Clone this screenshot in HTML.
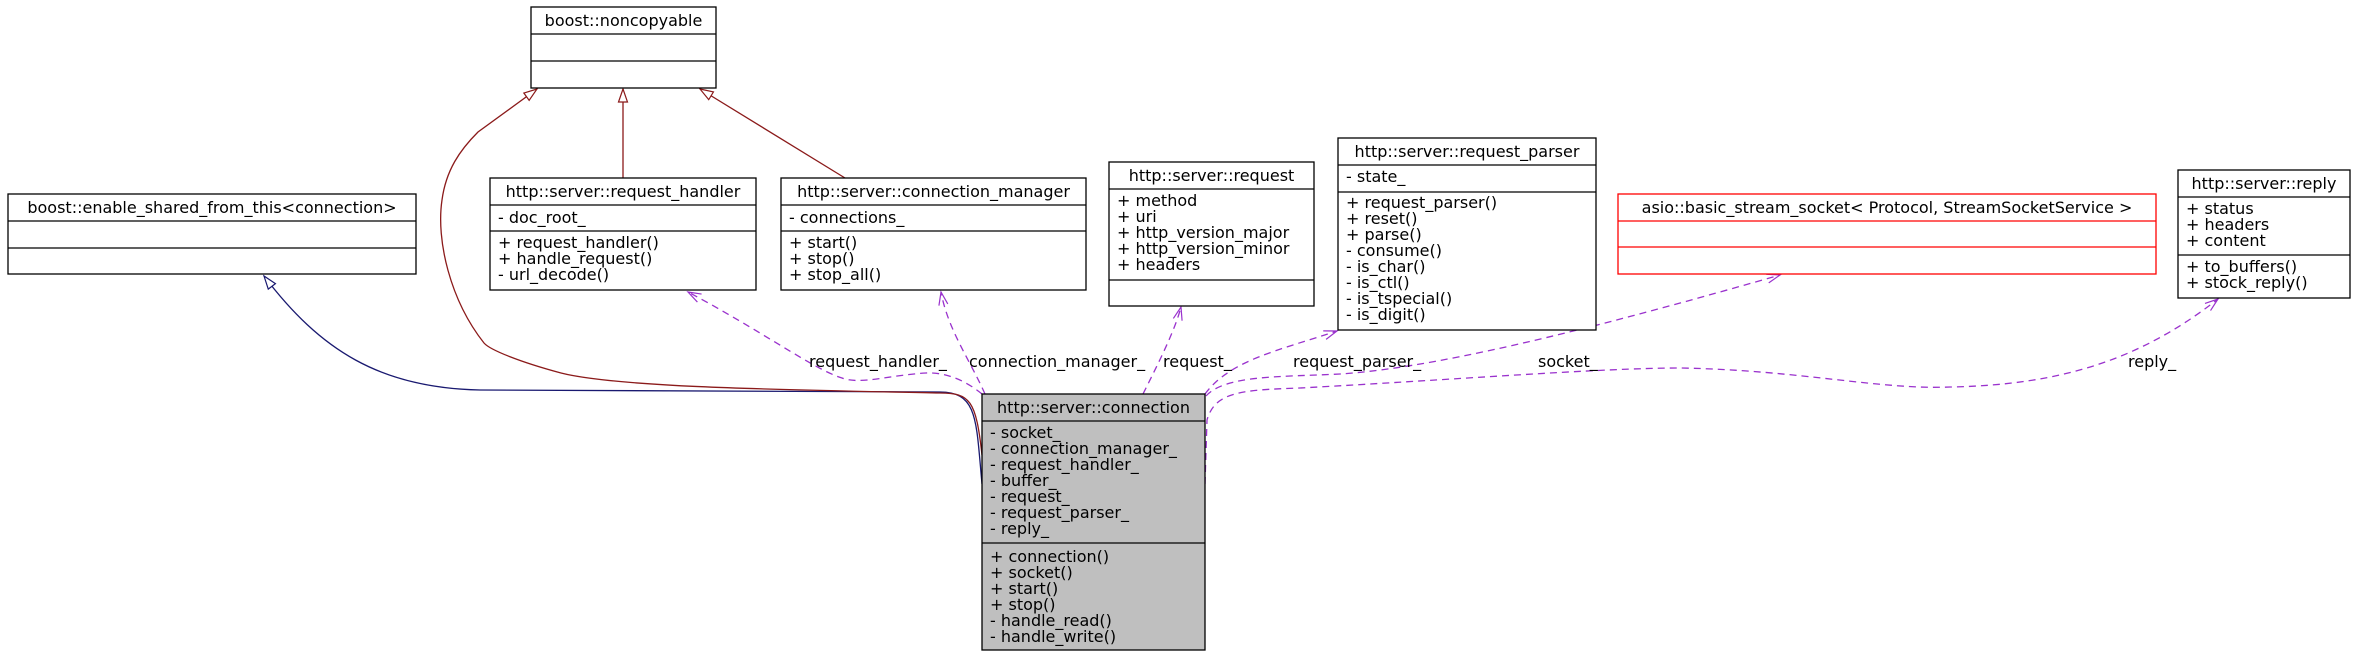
<!DOCTYPE html>
<html><head><meta charset="utf-8"><style>
html,body{margin:0;padding:0;background:#fff;}
svg{display:block;}
text{font-family:"DejaVu Sans","Liberation Sans",sans-serif;font-size:16px;fill:#000;}
</style></head><body>
<svg width="2356" height="658" viewBox="0 0 2356 658" xmlns="http://www.w3.org/2000/svg">
<defs>
<marker id="triB" markerWidth="16" markerHeight="12" refX="14" refY="6" orient="auto" markerUnits="userSpaceOnUse">
<path d="M1,1.5 L14,6 L1,10.5 Z" fill="#fff" stroke="#191970" stroke-width="1.2"/>
</marker>
<marker id="triR" markerWidth="16" markerHeight="12" refX="14" refY="6" orient="auto" markerUnits="userSpaceOnUse">
<path d="M1,1.5 L14,6 L1,10.5 Z" fill="#fff" stroke="#8b1a1a" stroke-width="1.2"/>
</marker>
<marker id="vee" markerWidth="16" markerHeight="12" refX="14" refY="6" orient="auto" markerUnits="userSpaceOnUse">
<path d="M1,1.5 L14,6 L1,10.5" fill="none" stroke="#9a32cd" stroke-width="1.2"/>
</marker>
</defs>

<g fill="none" stroke-width="1.3">
<path d="M982,484 C976,420 978,392 940,392 L480,390 C380,388 320,350 264,276" stroke="#191970" marker-end="url(#triB)"/>
<path d="M982,455 C976,400 970,393 940,393 C800,390 620,388 561,373 C520,362 490,350 484,343 C450,300 436,240 442,200 C446,170 460,150 478,132 L537,89" stroke="#8b1a1a" marker-end="url(#triR)"/>
<path d="M623,178 L623,89" stroke="#8b1a1a" marker-end="url(#triR)"/>
<path d="M845,178 L700,89" stroke="#8b1a1a" marker-end="url(#triR)"/>
</g>

<g fill="none" stroke="#9a32cd" stroke-width="1.3" stroke-dasharray="7,5">
<path d="M982,394 C965,380 945,372 926,373 C890,375 860,385 842,378 C815,370 760,330 688,292" marker-end="url(#vee)"/>
<path d="M985,394 C970,360 948,330 941,292" marker-end="url(#vee)"/>
<path d="M1143,394 C1160,360 1175,330 1181,307" marker-end="url(#vee)"/>
<path d="M1205,394 C1230,360 1280,350 1337,331" marker-end="url(#vee)"/>
<path d="M1206,396 C1225,375 1280,377 1340,374 C1450,367 1633,317 1780,275" marker-end="url(#vee)"/>
<path d="M1205,484 L1207,420 C1215,392 1240,390 1300,388 C1450,380 1600,368 1680,368 C1800,370 1880,390 1950,387 C2060,385 2140,360 2218,299" marker-end="url(#vee)"/>
</g>

<text x="809" y="367">request_handler_</text>
<text x="969" y="367">connection_manager_</text>
<text x="1163" y="367">request_</text>
<text x="1293" y="367">request_parser_</text>
<text x="1538" y="367">socket_</text>
<text x="2128" y="367">reply_</text>

<g fill="#fff" stroke="#000" stroke-width="1.3">
<rect x="531" y="7" width="185" height="81"/>
<line x1="531" y1="34" x2="716" y2="34"/><line x1="531" y1="61" x2="716" y2="61"/>
<rect x="8" y="194" width="408" height="80"/>
<line x1="8" y1="221" x2="416" y2="221"/><line x1="8" y1="248" x2="416" y2="248"/>
<rect x="490" y="178" width="266" height="112"/>
<line x1="490" y1="205" x2="756" y2="205"/><line x1="490" y1="231" x2="756" y2="231"/>
<rect x="781" y="178" width="305" height="112"/>
<line x1="781" y1="205" x2="1086" y2="205"/><line x1="781" y1="231" x2="1086" y2="231"/>
<rect x="1109" y="162" width="205" height="144"/>
<line x1="1109" y1="189" x2="1314" y2="189"/><line x1="1109" y1="280" x2="1314" y2="280"/>
<rect x="1338" y="138" width="258" height="192"/>
<line x1="1338" y1="165" x2="1596" y2="165"/><line x1="1338" y1="192" x2="1596" y2="192"/>
<rect x="2178" y="170" width="172" height="128"/>
<line x1="2178" y1="197" x2="2350" y2="197"/><line x1="2178" y1="255" x2="2350" y2="255"/>
</g>
<g fill="#fff" stroke="#ff0000" stroke-width="1.3">
<rect x="1618" y="194" width="538" height="80"/>
<line x1="1618" y1="221" x2="2156" y2="221"/><line x1="1618" y1="247" x2="2156" y2="247"/>
</g>
<g fill="#bfbfbf" stroke="#000" stroke-width="1.3">
<rect x="982" y="394" width="223" height="256"/>
<line x1="982" y1="421" x2="1205" y2="421"/><line x1="982" y1="543" x2="1205" y2="543"/>
</g>

<text x="623.5" y="26" text-anchor="middle">boost::noncopyable</text>
<text x="212" y="213" text-anchor="middle">boost::enable_shared_from_this&lt;connection&gt;</text>

<text x="623" y="197" text-anchor="middle">http::server::request_handler</text>
<text x="498" y="223">- doc_root_</text>
<text x="498" y="248">+ request_handler()</text>
<text x="498" y="264">+ handle_request()</text>
<text x="498" y="280">- url_decode()</text>

<text x="933.5" y="197" text-anchor="middle">http::server::connection_manager</text>
<text x="789" y="223">- connections_</text>
<text x="789" y="248">+ start()</text>
<text x="789" y="264">+ stop()</text>
<text x="789" y="280">+ stop_all()</text>

<text x="1211.5" y="181" text-anchor="middle">http::server::request</text>
<text x="1117" y="206">+ method</text>
<text x="1117" y="222">+ uri</text>
<text x="1117" y="238">+ http_version_major</text>
<text x="1117" y="254">+ http_version_minor</text>
<text x="1117" y="270">+ headers</text>

<text x="1467" y="157" text-anchor="middle">http::server::request_parser</text>
<text x="1346" y="182">- state_</text>
<text x="1346" y="208">+ request_parser()</text>
<text x="1346" y="224">+ reset()</text>
<text x="1346" y="240">+ parse()</text>
<text x="1346" y="256">- consume()</text>
<text x="1346" y="272">- is_char()</text>
<text x="1346" y="288">- is_ctl()</text>
<text x="1346" y="304">- is_tspecial()</text>
<text x="1346" y="320">- is_digit()</text>

<text x="1887" y="213" text-anchor="middle">asio::basic_stream_socket&lt; Protocol, StreamSocketService &gt;</text>

<text x="2264" y="189" text-anchor="middle">http::server::reply</text>
<text x="2186" y="214">+ status</text>
<text x="2186" y="230">+ headers</text>
<text x="2186" y="246">+ content</text>
<text x="2186" y="272">+ to_buffers()</text>
<text x="2186" y="288">+ stock_reply()</text>

<text x="1093.5" y="413" text-anchor="middle">http::server::connection</text>
<text x="990" y="438">- socket_</text>
<text x="990" y="454">- connection_manager_</text>
<text x="990" y="470">- request_handler_</text>
<text x="990" y="486">- buffer_</text>
<text x="990" y="502">- request_</text>
<text x="990" y="518">- request_parser_</text>
<text x="990" y="534">- reply_</text>
<text x="990" y="562">+ connection()</text>
<text x="990" y="578">+ socket()</text>
<text x="990" y="594">+ start()</text>
<text x="990" y="610">+ stop()</text>
<text x="990" y="626">- handle_read()</text>
<text x="990" y="642">- handle_write()</text>
</svg>
</body></html>
